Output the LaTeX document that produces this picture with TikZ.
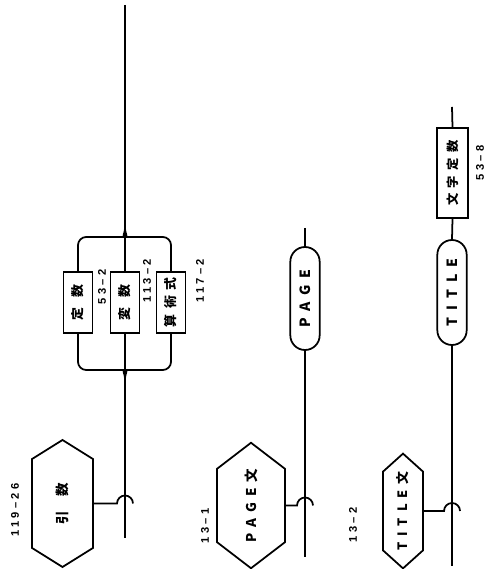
\documentclass[tikz,border=0pt]{standalone}
\usepackage{fontspec}
\newfontfamily\boxfont{Noto Sans CJK JP}[LetterSpace=75]
\newfontfamily\kwfont{Noto Sans CJK JP}[LetterSpace=50]
\newfontfamily\stfont{Noto Sans CJK JP}[LetterSpace=45]
\newfontfamily\labfont{Liberation Sans}[LetterSpace=30]
\usetikzlibrary{shapes.symbols, shapes.misc, calc}

\begin{document}
\begin{tikzpicture}[
    x=0.03cm, y=0.03cm,
    flow/.style={line width=1.5pt},
    keyword/.style={rounded rectangle, draw, line width=1.5pt, fill=white, rotate=90, inner sep=0pt, minimum height=0.88cm, font=\kwfont\bfseries\large},
    element/.style={rectangle, draw, line width=1.5pt, fill=white, rotate=90, inner sep=0pt, minimum height=0.87cm, font=\boxfont\bfseries\fontsize{11}{13}\selectfont},
    statement/.style={signal, signal to=east and west, draw, line width=1.5pt, fill=white, rotate=90, inner sep=0pt, font=\stfont\bfseries\fontsize{11.5}{13}\selectfont},
    ref/.style={rotate=90, inner sep=0pt, font=\labfont\bfseries\fontsize{9.5}{11}\selectfont}
]
    \useasboundingbox (0,0) rectangle (488,569);

    % First diagram: argument
    \node[statement, minimum width=3.81cm, minimum height=1.83cm, signal pointer angle=116] (arg) at (62.5,65.5) {引\hspace{1.1em}数};
    \node[ref] (argref) at (15,59) {119–26};
    \node[element, minimum width=1.83cm] (const) at (78,266.5) {定数};
    \node[element, minimum width=1.83cm] (var) at (125,266.5) {変数};
    \node[element, minimum width=1.83cm, font=\stfont\bfseries\fontsize{11}{13}\selectfont] (expr) at (171,266.5) {算術式};
    \node[ref] (constref) at (102,282) {53–2};
    \node[ref] (varref) at (147,288) {113–2};
    \node[ref] (exprref) at (200,288) {117–2};

    \coordinate (argtop) at (125,564);
    \coordinate (argsplit) at (125,340);
    \coordinate (argjoin) at (125,191);
    \coordinate (argend) at (125,31);

    \draw[flow] (argtop) -- (var.east);
    \draw[flow] (var.west) -- (argend);
    \draw[flow, rounded corners=7] (const.east) |- ($(argsplit)+(-8,-8)$) arc[start angle=-90, end angle=0, radius=8];
    \draw[flow, rounded corners=7] (expr.east) |- ($(argsplit)+(8,-8)$) arc[start angle=270, end angle=180, radius=8];
    \draw[flow, rounded corners=7] (const.west) |- ($(argjoin)+(-8,8)$) arc[start angle=90, end angle=0, radius=8];
    \draw[flow, rounded corners=7] (expr.west) |- ($(argjoin)+(8,8)$) arc[start angle=90, end angle=180, radius=8];
    \draw[flow] (arg.south) -- ($(arg.south -| argend)+(-8,0)$) arc[start angle=180, end angle=0, radius=8];

    % Second diagram: PAGE statement
    \node[statement, minimum width=3.69cm, minimum height=2.04cm, signal pointer angle=105] (pagest) at (251,63.5) {PAGE文};
    \node[ref] (pageref) at (205,43) {13–1};
    \node[keyword, minimum width=3.09cm] (page) at (305,270.5) {PAGE};
    \coordinate (pagetop) at (305,341);
    \coordinate (pageend) at (305,12);

    \draw[flow] (pagetop) -- (page.east);
    \draw[flow] (page.west) -- (pageend);
    \draw[flow] (pagest.south) -- ($(pagest.south -| pageend)+(-8,0)$) arc[start angle=180, end angle=0, radius=8];

    % Third diagram: TITLE statement
    \node[statement, minimum width=3.36cm, minimum height=1.2cm, signal pointer angle=96, font=\stfont\bfseries\fontsize{11}{13}\selectfont] (titlest) at (403,58) {TITLE文};
    \node[ref] (titleref) at (353,44) {13–2};
    \node[keyword, minimum width=3.15cm] (title) at (452,276.5) {TITLE};
    \node[element, minimum width=2.7cm, minimum height=0.93cm, font=\stfont\bfseries\fontsize{10.5}{13}\selectfont] (str) at (452.5,396) {文字定数};
    \node[ref] (strref) at (480,406) {53–8};
    \coordinate (titletop) at (452,462);
    \coordinate (titleend) at (452,3);

    \draw[flow] (titletop) -- (str.east);
    \draw[flow] (str.west) -- (title.east);
    \draw[flow] (title.west) -- (titleend);
    \draw[flow] (titlest.south) -- ($(titlest.south -| titleend)+(-8,0)$) arc[start angle=180, end angle=0, radius=8];

\end{tikzpicture}
\end{document}
